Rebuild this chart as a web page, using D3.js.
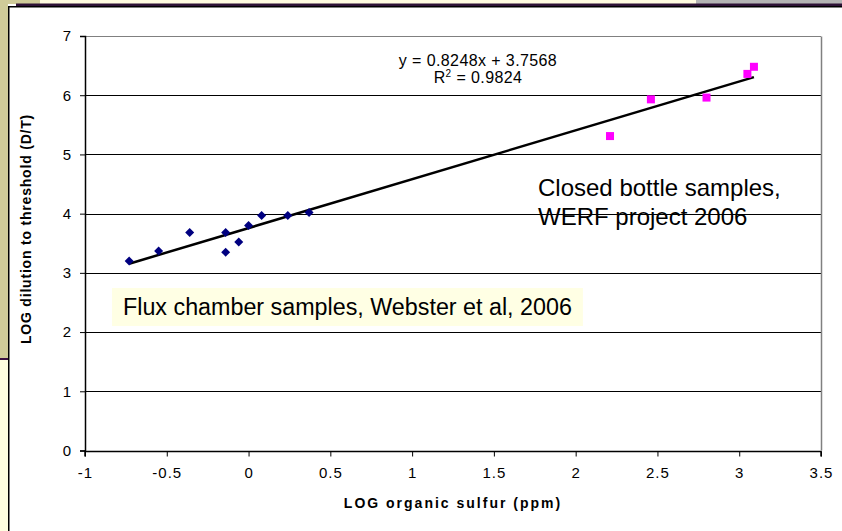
<!DOCTYPE html>
<html>
<head>
<meta charset="utf-8">
<script src="https://cdn.jsdelivr.net/npm/d3@7"></script>
<style>
  html, body { margin: 0; padding: 0; background: #ffffff; }
  svg { display: block; font-family: "Liberation Sans", Arial, sans-serif; }
</style>
</head>
<body>
<svg id="chart" width="842" height="531"></svg>
<script>
// Flux chamber samples (Webster et al, 2006)
const fluxX = [-0.73, -0.55, -0.36, -0.14, -0.14, -0.06, 0.00, 0.08, 0.24, 0.37];
const fluxY = [3.20, 3.37, 3.68, 3.68, 3.35, 3.52, 3.80, 3.97, 3.97, 4.02];
// Closed bottle samples (WERF project 2006)
const bottleX = [2.21, 2.46, 2.80, 3.05, 3.09];
const bottleY = [5.31, 5.93, 5.96, 6.36, 6.48];
// Linear trend line shown on the chart
const slope = 0.8248;
const intercept = 3.7568;
const rSquared = 0.9824;
const xTicks = [-1, -0.5, 0, 0.5, 1, 1.5, 2, 2.5, 3, 3.5];
const yTicks = [0, 1, 2, 3, 4, 5, 6, 7];

const svg = d3.select("#chart");

// slide decoration around the chart object
svg.append("rect").attr("x", 0).attr("y", 0).attr("width", 842).attr("height", 531).attr("fill", "#ffffff");
svg.append("rect").attr("x", 0).attr("y", 0).attr("width", 8).attr("height", 358).attr("fill", "#cfcb99");
svg.append("rect").attr("x", 0).attr("y", 0).attr("width", 40).attr("height", 4).attr("fill", "#cfcb99");
svg.append("rect").attr("x", 40).attr("y", 0).attr("width", 656).attr("height", 4).attr("fill", "#fffbe0");
svg.append("rect").attr("x", 696).attr("y", 0).attr("width", 146).attr("height", 4).attr("fill", "#b4b4b4");
svg.append("rect").attr("x", 16).attr("y", 3.5).attr("width", 826).attr("height", 2.5).attr("fill", "#2e1236");
svg.append("rect").attr("x", 0).attr("y", 358).attr("width", 8).attr("height", 2).attr("fill", "#3a1040");
svg.append("rect").attr("x", 0).attr("y", 360).attr("width", 8).attr("height", 171).attr("fill", "#ffffe0");
// chart object frame
svg.append("path").attr("d", "M8.75,531V6.75H842").attr("fill", "none").attr("stroke", "#000").attr("stroke-width", 1.5);

const x = d3.scaleLinear().domain([-1, 3.5]).range([85, 821]);
const y = d3.scaleLinear().domain([0, 7]).range([450.5, 36]);

// gridlines
svg.append("g")
  .selectAll("line").data(yTicks.filter(v => v > 0)).join("line")
  .attr("x1", x(-1)).attr("x2", x(3.5))
  .attr("y1", d => Math.round(y(d)) + 0.5).attr("y2", d => Math.round(y(d)) + 0.5)
  .attr("stroke", d => d === 7 ? "#808080" : "#000").attr("stroke-width", 1);
// right border of plot area
svg.append("line").attr("x1", x(3.5) + 0.5).attr("x2", x(3.5) + 0.5)
  .attr("y1", Math.round(y(7)) + 0.5).attr("y2", y(0))
  .attr("stroke", "#808080").attr("stroke-width", 1.5);

// axes
const fmt = d => String(d);
const xAxis = svg.append("g").attr("transform", `translate(0,${Math.round(y(0)) + 0.5})`)
  .call(d3.axisBottom(x).tickValues(xTicks).tickSize(5).tickPadding(11).tickFormat(fmt));
const yAxis = svg.append("g").attr("transform", `translate(${x(-1)},0)`)
  .call(d3.axisLeft(y).tickValues(yTicks).tickSize(5).tickPadding(8).tickFormat(fmt));
[xAxis, yAxis].forEach(g => {
  g.select(".domain").attr("stroke", "#000").attr("stroke-width", 1.5);
  g.selectAll(".tick line").attr("stroke", "#000");
  g.selectAll(".tick text").attr("fill", "#000")
    .style("font-family", "'Liberation Sans', Arial, sans-serif")
    .style("font-size", "15px").style("letter-spacing", "1px");
});
xAxis.select(".domain").attr("d", `M${x(-1)},5V0H${x(3.5)}V5`);

// axis titles
svg.append("text").attr("x", 453).attr("y", 508).attr("text-anchor", "middle")
  .style("font-size", "14px").style("font-weight", "bold").style("letter-spacing", "2px")
  .text("LOG organic sulfur (ppm)");
svg.append("text").attr("transform", "translate(31,229) rotate(-90)").attr("text-anchor", "middle")
  .style("font-size", "14px").style("font-weight", "bold").style("letter-spacing", "0.8px")
  .text("LOG dilution to threshold (D/T)");

// trend line over the data range
const allX = fluxX.concat(bottleX);
const x0 = d3.min(allX), x1 = d3.max(allX);
svg.append("line")
  .attr("x1", x(x0)).attr("y1", y(slope * x0 + intercept))
  .attr("x2", x(x1)).attr("y2", y(slope * x1 + intercept))
  .attr("stroke", "#000").attr("stroke-width", 2.5);

// markers
const flux = fluxX.map((v, i) => ({ x: v, y: fluxY[i] }));
const bottle = bottleX.map((v, i) => ({ x: v, y: bottleY[i] }));
svg.append("g").selectAll("path").data(flux).join("path")
  .attr("d", d => `M${x(d.x)},${y(d.y) - 4.5}L${x(d.x) + 4.5},${y(d.y)}L${x(d.x)},${y(d.y) + 4.5}L${x(d.x) - 4.5},${y(d.y)}Z`)
  .attr("fill", "#000080");
svg.append("g").selectAll("rect").data(bottle).join("rect")
  .attr("x", d => x(d.x) - 4).attr("y", d => y(d.y) - 4)
  .attr("width", 8).attr("height", 8).attr("fill", "#ff00ff");

// regression equation
svg.append("text").attr("x", 478).attr("y", 66).attr("text-anchor", "middle")
  .style("font-size", "16px").style("letter-spacing", "0.4px")
  .text(`y = ${slope}x + ${intercept}`);
const r2 = svg.append("text").attr("x", 478).attr("y", 83).attr("text-anchor", "middle")
  .style("font-size", "16px").style("letter-spacing", "0.4px");
r2.append("tspan").text("R");
r2.append("tspan").attr("dy", -6).style("font-size", "10px").text("2");
r2.append("tspan").attr("dy", 6).text(` = ${rSquared}`);

// annotation boxes
const fluxLabel = svg.append("g");
const fluxBg = fluxLabel.append("rect").attr("x", 112).attr("y", 288).attr("height", 38).attr("fill", "#ffffe4");
const fluxText = fluxLabel.append("text").attr("x", 123).attr("y", 315).style("font-size", "23.3px")
  .text("Flux chamber samples, Webster et al, 2006");
fluxBg.attr("width", fluxText.node().getComputedTextLength() + 22);

const closed = svg.append("text").style("font-size", "24px");
closed.append("tspan").attr("x", 538).attr("y", 196).text("Closed bottle samples,");
closed.append("tspan").attr("x", 538).attr("y", 225).text("WERF project 2006");
</script>
</body>
</html>
